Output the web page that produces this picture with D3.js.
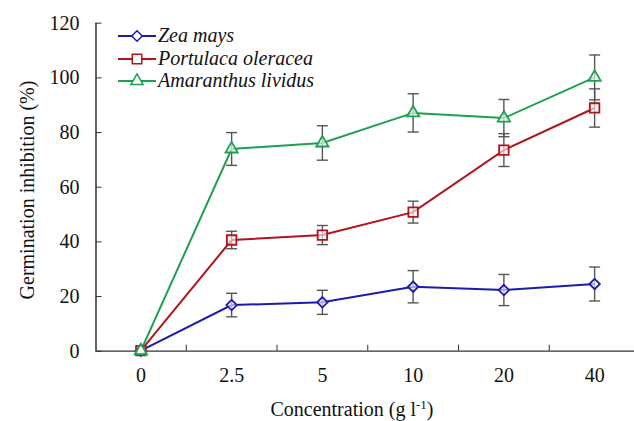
<!DOCTYPE html>
<html>
<head>
<meta charset="utf-8">
<script src="https://cdn.jsdelivr.net/npm/d3@7"></script>
<style>
html,body{margin:0;padding:0;background:#fff;}
svg{display:block;}
</style>
</head>
<body>
<svg id="chart" width="634" height="421"></svg>
<script>
const categories = ["0", "2.5", "5", "10", "20", "40"];
const yTicks = [0, 20, 40, 60, 80, 100, 120];
const seriesNames = ["Zea mays", "Portulaca oleracea", "Amaranthus lividus"];
const zeaMays = [0, 16.7, 17.7, 23.4, 22.2, 24.4];
const zeaMaysErr = [0, 4.3, 4.4, 5.9, 5.7, 6.2];
const portulaca = [0, 40.5, 42.3, 50.7, 73.4, 88.8];
const portulacaErr = [0, 3.2, 3.5, 4.0, 6.0, 7.0];
const amaranthus = [0, 73.8, 76.0, 87.0, 85.1, 100.0];
const amaranthusErr = [0, 6.0, 6.3, 7.0, 6.8, 8.2];
const colors = ["#1c1ca8", "#b0141c", "#1ea050"];

const FONT = '"Liberation Serif"';
const FS = 20;
const diamond = {draw(ctx, size) { const r = Math.sqrt(size / 2); ctx.moveTo(0, -r); ctx.lineTo(r, 0); ctx.lineTo(0, r); ctx.lineTo(-r, 0); ctx.closePath(); }};
const symbols = [diamond, d3.symbolSquare, d3.symbolTriangle];

const series = [
  {name: seriesNames[0], values: zeaMays, err: zeaMaysErr, color: colors[0], sym: symbols[0], size: 55},
  {name: seriesNames[1], values: portulaca, err: portulacaErr, color: colors[1], sym: symbols[1], size: 90},
  {name: seriesNames[2], values: amaranthus, err: amaranthusErr, color: colors[2], sym: symbols[2], size: 65}
];

const svg = d3.select("#chart");
const mLeft = 95.5, mTop = 22.7, mBottom = 350.7;
const band = 90.75;
const x = d3.scaleBand().domain(categories).range([mLeft, mLeft + band * categories.length]).paddingInner(0).paddingOuter(0);
const y = d3.scaleLinear().domain([0, 120]).range([mBottom, mTop]);
const cx = c => x(c) + x.bandwidth() / 2;

// Y axis
const yAxis = d3.axisLeft(y).tickValues(yTicks).tickSize(-6).tickPadding(16).tickFormat(d3.format("d"));
const gy = svg.append("g").attr("transform", `translate(${mLeft},0)`).call(yAxis);
gy.select(".domain").attr("stroke", "#111").attr("stroke-width", 1.3).attr("d", `M0.5,${mTop}V${mBottom}`);
gy.selectAll(".tick line").attr("stroke", "#333");
gy.selectAll(".tick text").attr("font-size", FS).attr("fill", "#111").style("font-family", FONT);

// X axis (ticks between categories, pointing inward)
const gx = svg.append("g").attr("transform", `translate(0,${mBottom})`);
gx.append("line").attr("x1", mLeft).attr("x2", 634).attr("y1", 0.5).attr("y2", 0.5).attr("stroke", "#333").attr("stroke-width", 1.3);
gx.selectAll("line.bt").data(categories.slice(1)).join("line")
  .attr("class", "bt")
  .attr("x1", d => x(d)).attr("x2", d => x(d))
  .attr("y1", 0).attr("y2", -6).attr("stroke", "#333");
gx.selectAll("text").data(categories).join("text")
  .attr("x", d => cx(d)).attr("y", 31)
  .attr("text-anchor", "middle").attr("font-size", FS).attr("fill", "#111").style("font-family", FONT).text(d => d);

// Axis titles
svg.append("text").attr("transform", "translate(34,190) rotate(-90)")
  .attr("text-anchor", "middle").attr("font-size", FS).attr("fill", "#111").style("font-family", FONT).text("Germination inhibition (%)");
const xt = svg.append("text").attr("x", 352).attr("y", 416).attr("text-anchor", "middle").attr("font-size", FS).attr("fill", "#111").style("font-family", FONT);
xt.append("tspan").text("Concentration (g l");
xt.append("tspan").attr("dy", -7).attr("font-size", 13).text("-1");
xt.append("tspan").attr("dy", 7).text(")");

// Error bars
series.forEach(s => {
  const g = svg.append("g");
  categories.forEach((c, i) => {
    if (!s.err[i]) return;
    const x0 = cx(c), y1 = y(s.values[i] + s.err[i]), y2 = y(s.values[i] - s.err[i]);
    g.append("line").attr("x1", x0).attr("x2", x0).attr("y1", y1).attr("y2", y2).attr("stroke", "#555").attr("stroke-width", 1.4);
    g.append("line").attr("x1", x0 - 5.5).attr("x2", x0 + 5.5).attr("y1", y1).attr("y2", y1).attr("stroke", "#555").attr("stroke-width", 1.4);
    g.append("line").attr("x1", x0 - 5.5).attr("x2", x0 + 5.5).attr("y1", y2).attr("y2", y2).attr("stroke", "#555").attr("stroke-width", 1.4);
  });
});

// Lines and markers
const line = d3.line().x((d, i) => cx(categories[i])).y(d => y(d));
series.forEach(s => {
  svg.append("path").datum(s.values).attr("d", line)
    .attr("fill", "none").attr("stroke", s.color).attr("stroke-width", 2);
});
series.forEach(s => {
  svg.append("g").selectAll("path").data(s.values).join("path")
    .attr("transform", (d, i) => `translate(${cx(categories[i])},${y(d)})`)
    .attr("d", d3.symbol().type(s.sym).size(s.size))
    .attr("fill", "#fff").attr("fill-opacity", 0.6).attr("stroke", s.color).attr("stroke-width", 1.8);
});

// Legend
const lg = svg.append("g");
const rowY = [36, 59, 81];
series.forEach((s, i) => {
  const yy = rowY[i];
  lg.append("line").attr("x1", 118).attr("x2", 156).attr("y1", yy).attr("y2", yy).attr("stroke", s.color).attr("stroke-width", 2);
  lg.append("path").attr("transform", `translate(137,${yy})`)
    .attr("d", d3.symbol().type(s.sym).size(s.size))
    .attr("fill", "#fff").attr("stroke", s.color).attr("stroke-width", 1.5);
  lg.append("text").attr("x", 158).attr("y", yy + 6).attr("font-size", FS).attr("font-style", "italic")
    .attr("fill", "#111").style("font-family", FONT).text(s.name);
});
</script>
</body>
</html>
